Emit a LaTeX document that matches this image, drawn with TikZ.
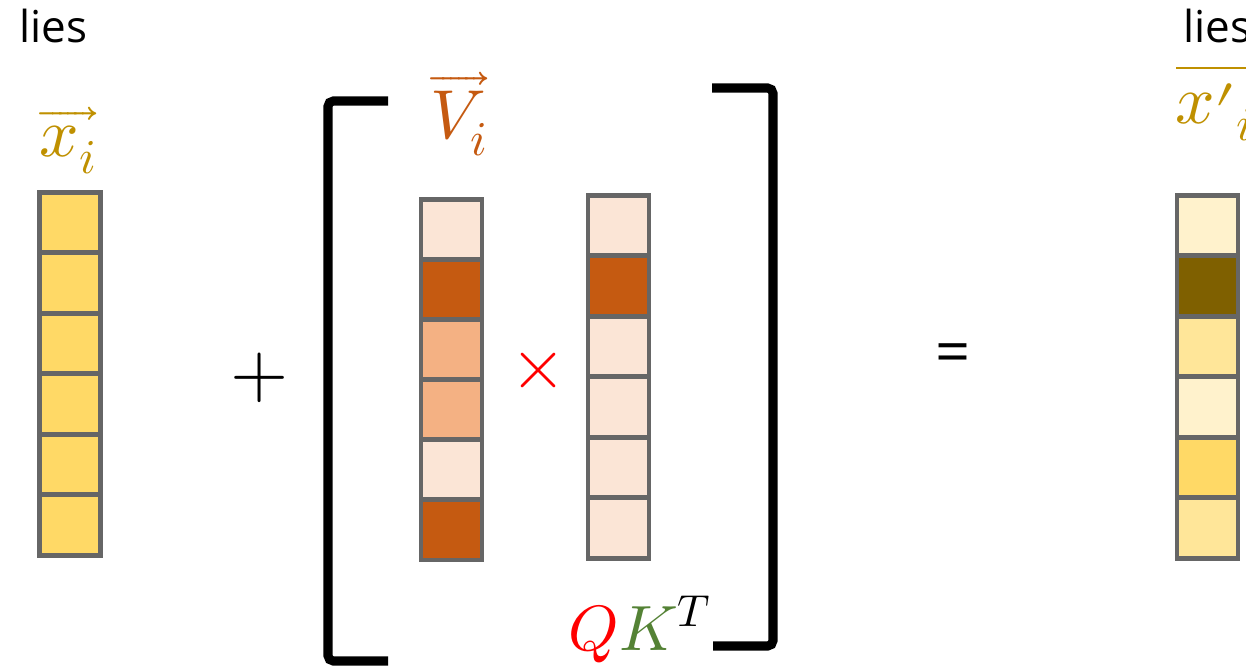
\documentclass[tikz,border=0pt]{standalone}
\usepackage{fontspec}
\usepackage{unicode-math}
\setmathfont{Latin Modern Math}
\newfontfamily\liesfont{Open Sans}
\definecolor{cellgray}{HTML}{666666}
\definecolor{gold}{HTML}{BF9000}
\definecolor{vorange}{HTML}{C55A11}
\definecolor{kgreen}{HTML}{548235}
\definecolor{yA}{HTML}{FFD966}
\definecolor{yB}{HTML}{FFE699}
\definecolor{yC}{HTML}{FFF2CC}
\definecolor{yD}{HTML}{7F6000}
\definecolor{oA}{HTML}{FBE5D6}
\definecolor{oB}{HTML}{F4B183}
\definecolor{oC}{HTML}{C55A11}
\begin{document}
\begin{tikzpicture}[x=0.75pt,y=-0.75pt,
  cell/.style={draw=cellgray, line width=3.4pt, minimum width=45.75pt, minimum height=45.4pt, inner sep=0pt, outer sep=0pt},
  bracket/.style={line width=6.8pt, rounded corners=4pt},
  mathlab/.style={font=\fontsize{52}{56}\selectfont, inner sep=0pt, anchor=base},
  lieslab/.style={font=\liesfont\fontsize{33}{36}\selectfont, inner sep=0pt, anchor=base west}]
\useasboundingbox (0,0) rectangle (1246,669);
% x_i column
\foreach \c [count=\k] in {yA,yA,yA,yA,yA,yA}
  \node[cell, fill=\c] (x\k) at (70,{222.5+60.5*(\k-1)}) {};
% V_i column
\foreach \c [count=\k] in {oA,oC,oB,oB,oA,oC}
  \node[cell, fill=\c] (v\k) at (451.5,{229.5+60*(\k-1)}) {};
% QK^T column
\foreach \c [count=\k] in {oA,oC,oA,oA,oA,oA}
  \node[cell, fill=\c] (q\k) at (618.5,{225.5+60.5*(\k-1)}) {};
% x'_i column
\foreach \c [count=\k] in {yC,yD,yB,yC,yA,yB}
  \node[cell, fill=\c] (y\k) at (1207.5,{225.5+60.5*(\k-1)}) {};
% brackets
\draw[bracket] (388,101) -- (328,101) -- (328,661) -- (388,661);
\draw[bracket] (712,88) -- (773,88) -- (773,646) -- (713,646);
% labels
\node[lieslab] (lies1) at (19,42) {lies};
\node[lieslab] (lies2) at (1183,42) {lies};
\node[mathlab, text=gold] (xlab) at (68,156) {$\overrightarrow{x_i}$};
\node[mathlab, text=vorange] (vlab) at (459,138) {$\overrightarrow{V_i}$};
\node[mathlab, font=\fontsize{48}{52}\selectfont] (qklab) at (640,650) {$\color{red}Q\color{kgreen}K\color{black}^T$};
\node[mathlab, anchor=base west, text=gold] (ylab) at (1175,123) {$x\raisebox{-0.18em}{$\prime$}{}_{i}$};
\draw[gold, line width=2pt] (1176,68) -- (1250,68);
\node[font=\fontsize{56}{60}\selectfont, inner sep=0pt] (plus) at (260,378) {$+$};
\node[font=\fontsize{54}{58}\selectfont, inner sep=0pt, text=red] (times) at (539,371) {$\times$};
\node[font=\liesfont\fontsize{46}{50}\selectfont, inner sep=0pt] (eq) at (953,359) {=};
\end{tikzpicture}
\end{document}
